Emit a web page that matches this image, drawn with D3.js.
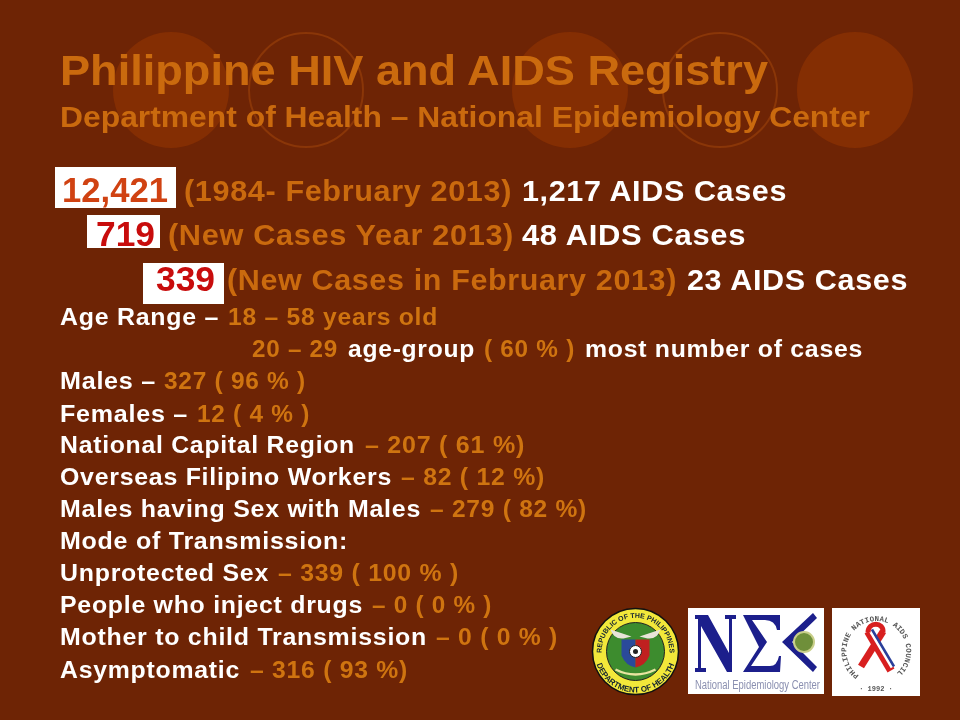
<!DOCTYPE html>
<html><head><meta charset="utf-8">
<script src="https://cdnjs.cloudflare.com/ajax/libs/d3/7.8.5/d3.min.js"></script>
<style>html,body{margin:0;padding:0;background:#6e2405}svg{display:block;filter:blur(0.35px)}text{font-family:"Liberation Sans",Arial,sans-serif;font-weight:bold}</style>
</head><body><svg id="c" width="960" height="720"></svg>
<script>
const titleText = "Philippine HIV and AIDS Registry";
const subtitleText = "Department of Health \u2013 National Epidemiology Center";
const headlineNumbers = ["12,421", "719", "339"];
const headlinePeriods = ["(1984- February 2013)", "(New Cases Year 2013)", "(New Cases in February 2013)"];
const headlineAids = ["1,217 AIDS Cases", "48 AIDS Cases", "23 AIDS Cases"];
const statLabels = ["Age Range \u2013", "Males \u2013", "Females \u2013", "National Capital Region", "Overseas Filipino Workers", "Males having Sex with Males", "Mode of Transmission:", "Unprotected Sex", "People who inject drugs", "Mother to child Transmission", "Asymptomatic"];
const statValues = ["18 \u2013 58 years old", "327 ( 96 % )", "12 ( 4 % )", "\u2013 207 ( 61 %)", "\u2013 82 ( 12 %)", "\u2013 279 ( 82 %)", "", "\u2013 339 ( 100 % )", "\u2013 0 ( 0 % )", "\u2013 0 ( 0 % )", "\u2013 316 ( 93 %)"];
const ageGroupParts = ["20 \u2013 29", "age-group", "( 60 % )", "most number of cases"];

const BG="#6e2405", OR="#ca6a0e", OR2="#cf7410", CIRC="#842e03", RING="#8a3608";
const svg=d3.select("#c");
svg.append("rect").attr("width",960).attr("height",720).attr("fill",BG);
const defs=svg.append("defs");

// decorative circles
[[171,true],[306,false],[570,true],[720,false],[855,true]].forEach(([x,f])=>{
  svg.append("circle").attr("cx",x).attr("cy",90).attr("r",f?58:57)
    .attr("fill",f?CIRC:"none").attr("stroke",f?"none":RING).attr("stroke-width",2);
});

function t(x,y,s,size,fill,w,ls){
  const e=svg.append("text").attr("x",x).attr("y",y).attr("font-size",size).attr("fill",fill).text(s);
  if(ls)e.style("letter-spacing",ls+"px");
  if(w)e.attr("textLength",w).attr("lengthAdjust","spacingAndGlyphs");
  return e;
}
t(60,85,titleText,43,OR,708);
t(60,127,subtitleText,29,OR,810);

// headline rows
const boxes=[[55,167,121,41],[87,215,73,33],[143,263,81,41]];
const numX=[62,96,156], numW=[106,59,59], numY=[202,246,291], numFill=["#d04212","#c80c0c","#c80c0c"];
const perX=[184,168,227], perW=[328,346,450], aidsX=[522,522,687], aidsW=[265,224,221], rowY=[201,245,290];
headlineNumbers.forEach((n,i)=>{
  const b=boxes[i];
  svg.append("rect").attr("x",b[0]).attr("y",b[1]).attr("width",b[2]).attr("height",b[3]).attr("fill","#fff");
  t(numX[i],numY[i],n,35,numFill[i],numW[i]);
  t(perX[i],rowY[i],headlinePeriods[i],29,OR,perW[i],0.6);
  t(aidsX[i],rowY[i],headlineAids[i],29,"#fff",aidsW[i],0.6);
});

// stat rows
const FS=23.5, LS=0.7;
const rowsY=[325,389,422,453,485,517,549,581,613,645,678];
const labelW=[159,96,128,295,332,361,288,209,303,367,180];
const valX=[228,164,197,365,401,430,0,278,372,436,250];
const valW=[210,142,113,160,144,157,0,181,120,122,158];
statLabels.forEach((l,i)=>{
  t(60,rowsY[i],l,FS,"#fff",labelW[i],LS);
  if(statValues[i])t(valX[i],rowsY[i],statValues[i],FS,OR2,valW[i],LS);
});
const ageX=[252,348,484,585], ageW=[86,127,91,278], ageFill=[OR2,"#fff",OR2,"#fff"];
ageGroupParts.forEach((s,i)=>t(ageX[i],357,s,FS,ageFill[i],ageW[i],LS));

// DOH seal
const seal=svg.append("g").attr("transform","translate(635.5,651.5)");
seal.append("circle").attr("r",43).attr("fill","#f2e83a").attr("stroke","#111").attr("stroke-width",1.5);
seal.append("circle").attr("r",29).attr("fill","#3d8c2e").attr("stroke","#222");
defs.append("path").attr("id","arcT").attr("d","M-33.8,4A34,34 0 1 1 33.8,4");
defs.append("path").attr("id","arcB").attr("d","M-40,9A41,41 0 0 0 40,9");
seal.append("text").attr("font-size",7).attr("fill","#123").append("textPath").attr("href","#arcT").attr("startOffset","50%").attr("text-anchor","middle").text("REPUBLIC OF THE PHILIPPINES");
seal.append("text").attr("font-size",8).attr("fill","#123").append("textPath").attr("href","#arcB").attr("startOffset","50%").attr("text-anchor","middle").text("DEPARTMENT OF HEALTH");
seal.append("path").attr("d","M-14,-12H0V16Q-10,14 -14,4Z").attr("fill","#2a4a9a");
seal.append("path").attr("d","M14,-12H0V16Q10,14 14,4Z").attr("fill","#c02020");
seal.append("circle").attr("r",6).attr("fill","#fff").attr("stroke","#222");
seal.append("circle").attr("r",2.5).attr("fill","#222");
seal.append("path").attr("d","M-4,-15L-25,-22Q-22,-12 -12,-13ZM4,-15L25,-22Q22,-12 12,-13Z").attr("fill","#e8e4d8");
seal.append("path").attr("d","M-20,18Q0,28 20,18").attr("fill","none").attr("stroke","#e8e4a0").attr("stroke-width",2.5);

// NEC logo
svg.append("rect").attr("x",688).attr("y",608).attr("width",136).attr("height",86).attr("fill","#fff");
const NB="#1c1f8c";
const nec=svg.append("g").attr("fill",NB);
nec.append("path").attr("d","M695,615H708L729,653V619H725V615H736V619H732V672H727L701,626V668H706V672H695V668H698V619H695Z");
nec.append("path").attr("d","M743,615H780V630H777Q775,620 765,620H752L767,642L751,666H770Q777,666 779,656H781L780,672H743L759,647Z");
nec.append("path").attr("d","M813,613L817,618L792,642L817,667L813,672L782,642Z");
svg.append("circle").attr("cx",804).attr("cy",642).attr("r",10).attr("fill","#6f8f3a").attr("stroke","#c9cf8a").attr("stroke-width",2);
svg.append("text").attr("x",695).attr("y",689).attr("font-size",12).attr("fill","#8a8fb0").style("font-weight","normal").attr("textLength",125).attr("lengthAdjust","spacingAndGlyphs").text("National Epidemiology Center");

// PNAC logo
svg.append("rect").attr("x",832).attr("y",608).attr("width",88).attr("height",88).attr("fill","#fff");
const pn=svg.append("g").attr("transform","translate(876,651.5)");
defs.append("path").attr("id","arcP").attr("d","M-17,24A30,30 0 1 1 19,23");
pn.append("text").attr("font-size",7.5).attr("fill","#555").style("font-family","'Liberation Mono',monospace").attr("letter-spacing",0.1).append("textPath").attr("href","#arcP").text("PHILIPPINE NATIONAL AIDS COUNCIL");
pn.append("text").attr("x",0).attr("y",39).attr("text-anchor","middle").attr("font-size",7).attr("fill","#555").style("font-family","'Liberation Mono',monospace").text("\u00B7 1992 \u00B7");
pn.append("path").attr("d","M7,-20L-15,15").attr("stroke","#d81f1f").attr("stroke-width",7).attr("fill","none");
pn.append("path").attr("d","M-8,-20L15,19").attr("stroke","#d81f1f").attr("stroke-width",8).attr("fill","none");
pn.append("path").attr("d","M-6,-21L16,16").attr("stroke","#fff").attr("stroke-width",3).attr("fill","none");
pn.append("path").attr("d","M-4,-22L18,15").attr("stroke","#2a3f9a").attr("stroke-width",2.5).attr("fill","none");
pn.append("path").attr("d","M-8,-19C-8,-30 8,-30 7,-19").attr("stroke","#d81f1f").attr("stroke-width",5).attr("fill","none");
</script></body></html>
